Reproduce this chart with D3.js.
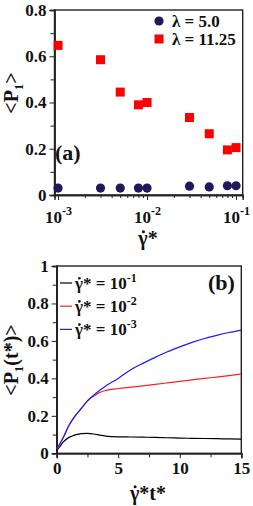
<!DOCTYPE html>
<html><head><meta charset="utf-8">
<script src="https://cdn.jsdelivr.net/npm/d3@7"></script>
<style>body{margin:0;background:#fff}svg{display:block}</style>
</head><body><svg id="c" width="253" height="506"></svg>
<script>
// Panel (a) data
const shearRates = [0.001, 0.003, 0.005, 0.008, 0.01, 0.03, 0.05, 0.08, 0.1];
const p1Lambda5 = [0.03, 0.03, 0.03, 0.03, 0.03, 0.038, 0.035, 0.04, 0.04];
const p1Lambda1125 = [0.647, 0.585, 0.445, 0.39, 0.40, 0.335, 0.265, 0.195, 0.205];
const seriesA = ["λ = 5.0", "λ = 11.25"];
const yTicksA = [0, 0.2, 0.4, 0.6, 0.8];
const xTicksA = [1e-3, 1e-2, 1e-1];
// Panel (b) data
const strain = [0, 0.25, 0.5, 1, 1.5, 2, 2.5, 3, 3.5, 4, 5, 6, 7, 8, 9, 10, 11, 12, 13, 14, 15];
const p1Rate1e1 = [0.015, 0.035, 0.058, 0.085, 0.098, 0.105, 0.106, 0.103, 0.097, 0.092, 0.088, 0.087, 0.086, 0.085, 0.083, 0.081, 0.08, 0.079, 0.078, 0.077, 0.076];
const p1Rate1e2 = [0.023, 0.05, 0.08, 0.15, 0.2, 0.24, 0.28, 0.305, 0.325, 0.336, 0.346, 0.353, 0.36, 0.368, 0.376, 0.384, 0.392, 0.4, 0.407, 0.415, 0.423];
const p1Rate1e3 = [0.023, 0.05, 0.08, 0.15, 0.2, 0.24, 0.28, 0.31, 0.337, 0.36, 0.4, 0.445, 0.48, 0.512, 0.542, 0.568, 0.592, 0.613, 0.63, 0.645, 0.658];
const seriesB = ["-1", "-2", "-3"];
const colorsB = ["#000000", "#ff2020", "#1a1aff"];
const yTicksB = [0, 0.2, 0.4, 0.6, 0.8, 1];
const xTicksB = [0, 5, 10, 15];

const FONT = "'Liberation Serif', 'DejaVu Serif', serif";
const svg = d3.select("#c");
const FS = 17;

function dotGamma(textSel, r) {
  const n = textSel.node();
  const b = n.getExtentOfChar(0);
  const parent = d3.select(n.parentNode);
  const tr = textSel.attr("transform");
  const c = parent.append("circle").attr("cx", b.x + b.width * 0.55).attr("cy", b.y + b.height * 0.22)
    .attr("r", r || 1.3).attr("fill", "#111");
  if (tr) c.attr("transform", tr);
}

// ---------- Panel (a)
const xA = d3.scaleLog().domain([Math.pow(10, -3.04), Math.pow(10, -0.925)]).range([54.5, 242.7]);
const yA = d3.scaleLinear().domain([0, 0.8]).range([195, 10]);
const gA = svg.append("g");
gA.append("rect").attr("x", xA.range()[0]).attr("y", yA.range()[1])
  .attr("width", xA.range()[1] - xA.range()[0]).attr("height", yA.range()[0] - yA.range()[1])
  .attr("fill", "none").attr("stroke", "#222").attr("stroke-width", 1.4);
gA.append("g").attr("transform", `translate(${xA.range()[0]},0)`)
  .call(d3.axisLeft(yA).tickValues(yTicksA).tickSize(5).tickPadding(3).tickFormat(d => d === 0 ? "0" : d3.format(".1f")(d)));
gA.append("g").attr("transform", `translate(${xA.range()[0]},0)`)
  .call(d3.axisLeft(yA).tickValues(d3.range(0.1, 0.8, 0.2)).tickSize(4).tickFormat(""));
const minorA = [];
for (let e = -4; e <= -1; e++) for (let k = 2; k <= 9; k++) { const v = k * Math.pow(10, e); if (v > xA.domain()[0] && v < xA.domain()[1]) minorA.push(v); }
gA.append("g").attr("transform", `translate(0,${yA.range()[0]})`)
  .call(d3.axisBottom(xA).tickValues(minorA).tickSize(3).tickFormat(""));
const xAxA = gA.append("g").attr("transform", `translate(0,${yA.range()[0]})`)
  .call(d3.axisBottom(xA).tickValues(xTicksA).tickSize(5).tickFormat(""));
xAxA.selectAll(".tick").each(function(d) {
  const t = d3.select(this).append("text").attr("y", 28).attr("text-anchor", "middle").attr("class", "lbl");
  t.append("tspan").text("10");
  t.append("tspan").attr("dy", -8).style("font-size", "12px").text(String(Math.round(Math.log10(d))));
});
gA.selectAll(".sq").data(shearRates).join("rect").attr("class", "sq")
  .attr("x", (d) => xA(d) - 4.5).attr("y", (d, i) => yA(p1Lambda1125[i]) - 4.5)
  .attr("width", 9).attr("height", 9).attr("fill", "#ff0000");
gA.selectAll(".ci").data(shearRates).join("circle").attr("class", "ci")
  .attr("cx", d => xA(d)).attr("cy", (d, i) => yA(p1Lambda5[i])).attr("r", 4.6).attr("fill", "#22175a");
const legA = gA.append("g");
legA.append("circle").attr("cx", 159).attr("cy", 21).attr("r", 4.6).attr("fill", "#22175a");
legA.append("rect").attr("x", 154.5).attr("y", 34.5).attr("width", 9).attr("height", 9).attr("fill", "#ff0000");
legA.selectAll("text").data(seriesA).join("text").attr("x", 172).attr("y", (d, i) => 27 + i * 18)
  .attr("class", "lbl").text(d => d);
gA.append("text").attr("x", 55).attr("y", 160).attr("class", "big").style("font-size", "22px").text("(a)");
const ylA = gA.append("text").attr("transform", "translate(18,93) rotate(-90)").attr("text-anchor", "middle").attr("class", "big");
ylA.append("tspan").text("<P");
ylA.append("tspan").attr("dy", 5).style("font-size", "13px").text("1");
ylA.append("tspan").attr("dy", -5).text(">");
const xlA = gA.append("text").attr("x", 148).attr("y", 245).attr("text-anchor", "middle").attr("class", "big").text("γ*");

// ---------- Panel (b)
const xB = d3.scaleLinear().domain([0, 15]).range([56.7, 241.3]);
const yB = d3.scaleLinear().domain([0, 1]).range([453.3, 266]);
const gB = svg.append("g");
gB.append("rect").attr("x", xB.range()[0]).attr("y", yB.range()[1])
  .attr("width", xB.range()[1] - xB.range()[0]).attr("height", yB.range()[0] - yB.range()[1])
  .attr("fill", "none").attr("stroke", "#222").attr("stroke-width", 1.4);
gB.append("g").attr("transform", `translate(${xB.range()[0]},0)`)
  .call(d3.axisLeft(yB).tickValues(yTicksB).tickSize(5).tickPadding(3).tickFormat(d => (d === 0 || d === 1) ? String(d) : d3.format(".1f")(d)));
gB.append("g").attr("transform", `translate(${xB.range()[0]},0)`)
  .call(d3.axisLeft(yB).tickValues([0.1, 0.3, 0.5, 0.7, 0.9]).tickSize(4).tickFormat(""));
gB.append("g").attr("transform", `translate(0,${yB.range()[0]})`)
  .call(d3.axisBottom(xB).tickValues([2.5, 7.5, 12.5]).tickSize(4).tickFormat(""));
gB.append("g").attr("transform", `translate(0,${yB.range()[0]})`)
  .call(d3.axisBottom(xB).tickValues(xTicksB).tickSize(5).tickPadding(4).tickFormat(d3.format("d")));
const line = d3.line().x((d, i) => xB(strain[i])).y(d => yB(d)).curve(d3.curveMonotoneX);
[p1Rate1e1, p1Rate1e2, p1Rate1e3].forEach((s, k) => {
  gB.append("path").attr("d", line(s)).attr("fill", "none").attr("stroke", colorsB[k]).attr("stroke-width", 1.2);
});
const legB = gB.append("g");
const legTexts = [];
seriesB.forEach((s, i) => {
  const y = 283 + i * 23.2;
  legB.append("line").attr("x1", 60).attr("x2", 72).attr("y1", y).attr("y2", y).attr("stroke", colorsB[i]).attr("stroke-width", 1.2);
  const t = legB.append("text").attr("x", 75).attr("y", y + 6).attr("class", "lbl");
  t.append("tspan").text("γ* = 10");
  t.append("tspan").attr("dy", -7).style("font-size", "12px").text(s);
  legTexts.push(t);
});
gB.append("text").attr("x", 208).attr("y", 290).attr("class", "big").style("font-size", "22px").text("(b)");
const ylB = gB.append("text").attr("transform", "translate(18,360) rotate(-90)").attr("text-anchor", "middle").attr("class", "big");
ylB.append("tspan").text("<P");
ylB.append("tspan").attr("dy", 5).style("font-size", "13px").text("1");
ylB.append("tspan").attr("dy", -5).text("(t*)>");
const xlB = gB.append("text").attr("x", 148).attr("y", 500).attr("text-anchor", "middle").attr("class", "big").text("γ*t*");

svg.selectAll("g").attr("font-family", FONT);
svg.selectAll("text").style("font-family", FONT).style("font-weight", "bold").attr("fill", "#111");
svg.selectAll(".tick text, text.lbl").style("font-size", FS + "px");
svg.selectAll("text.big").filter(function() { return !this.style.fontSize; }).style("font-size", "20px");
svg.selectAll(".domain").attr("stroke", "#222").attr("stroke-width", 1.4);
svg.selectAll(".tick line").attr("stroke", "#222");

dotGamma(xlA, 1.5);
dotGamma(xlB, 1.5);
legTexts.forEach(t => dotGamma(t, 1.3));
</script></body></html>
